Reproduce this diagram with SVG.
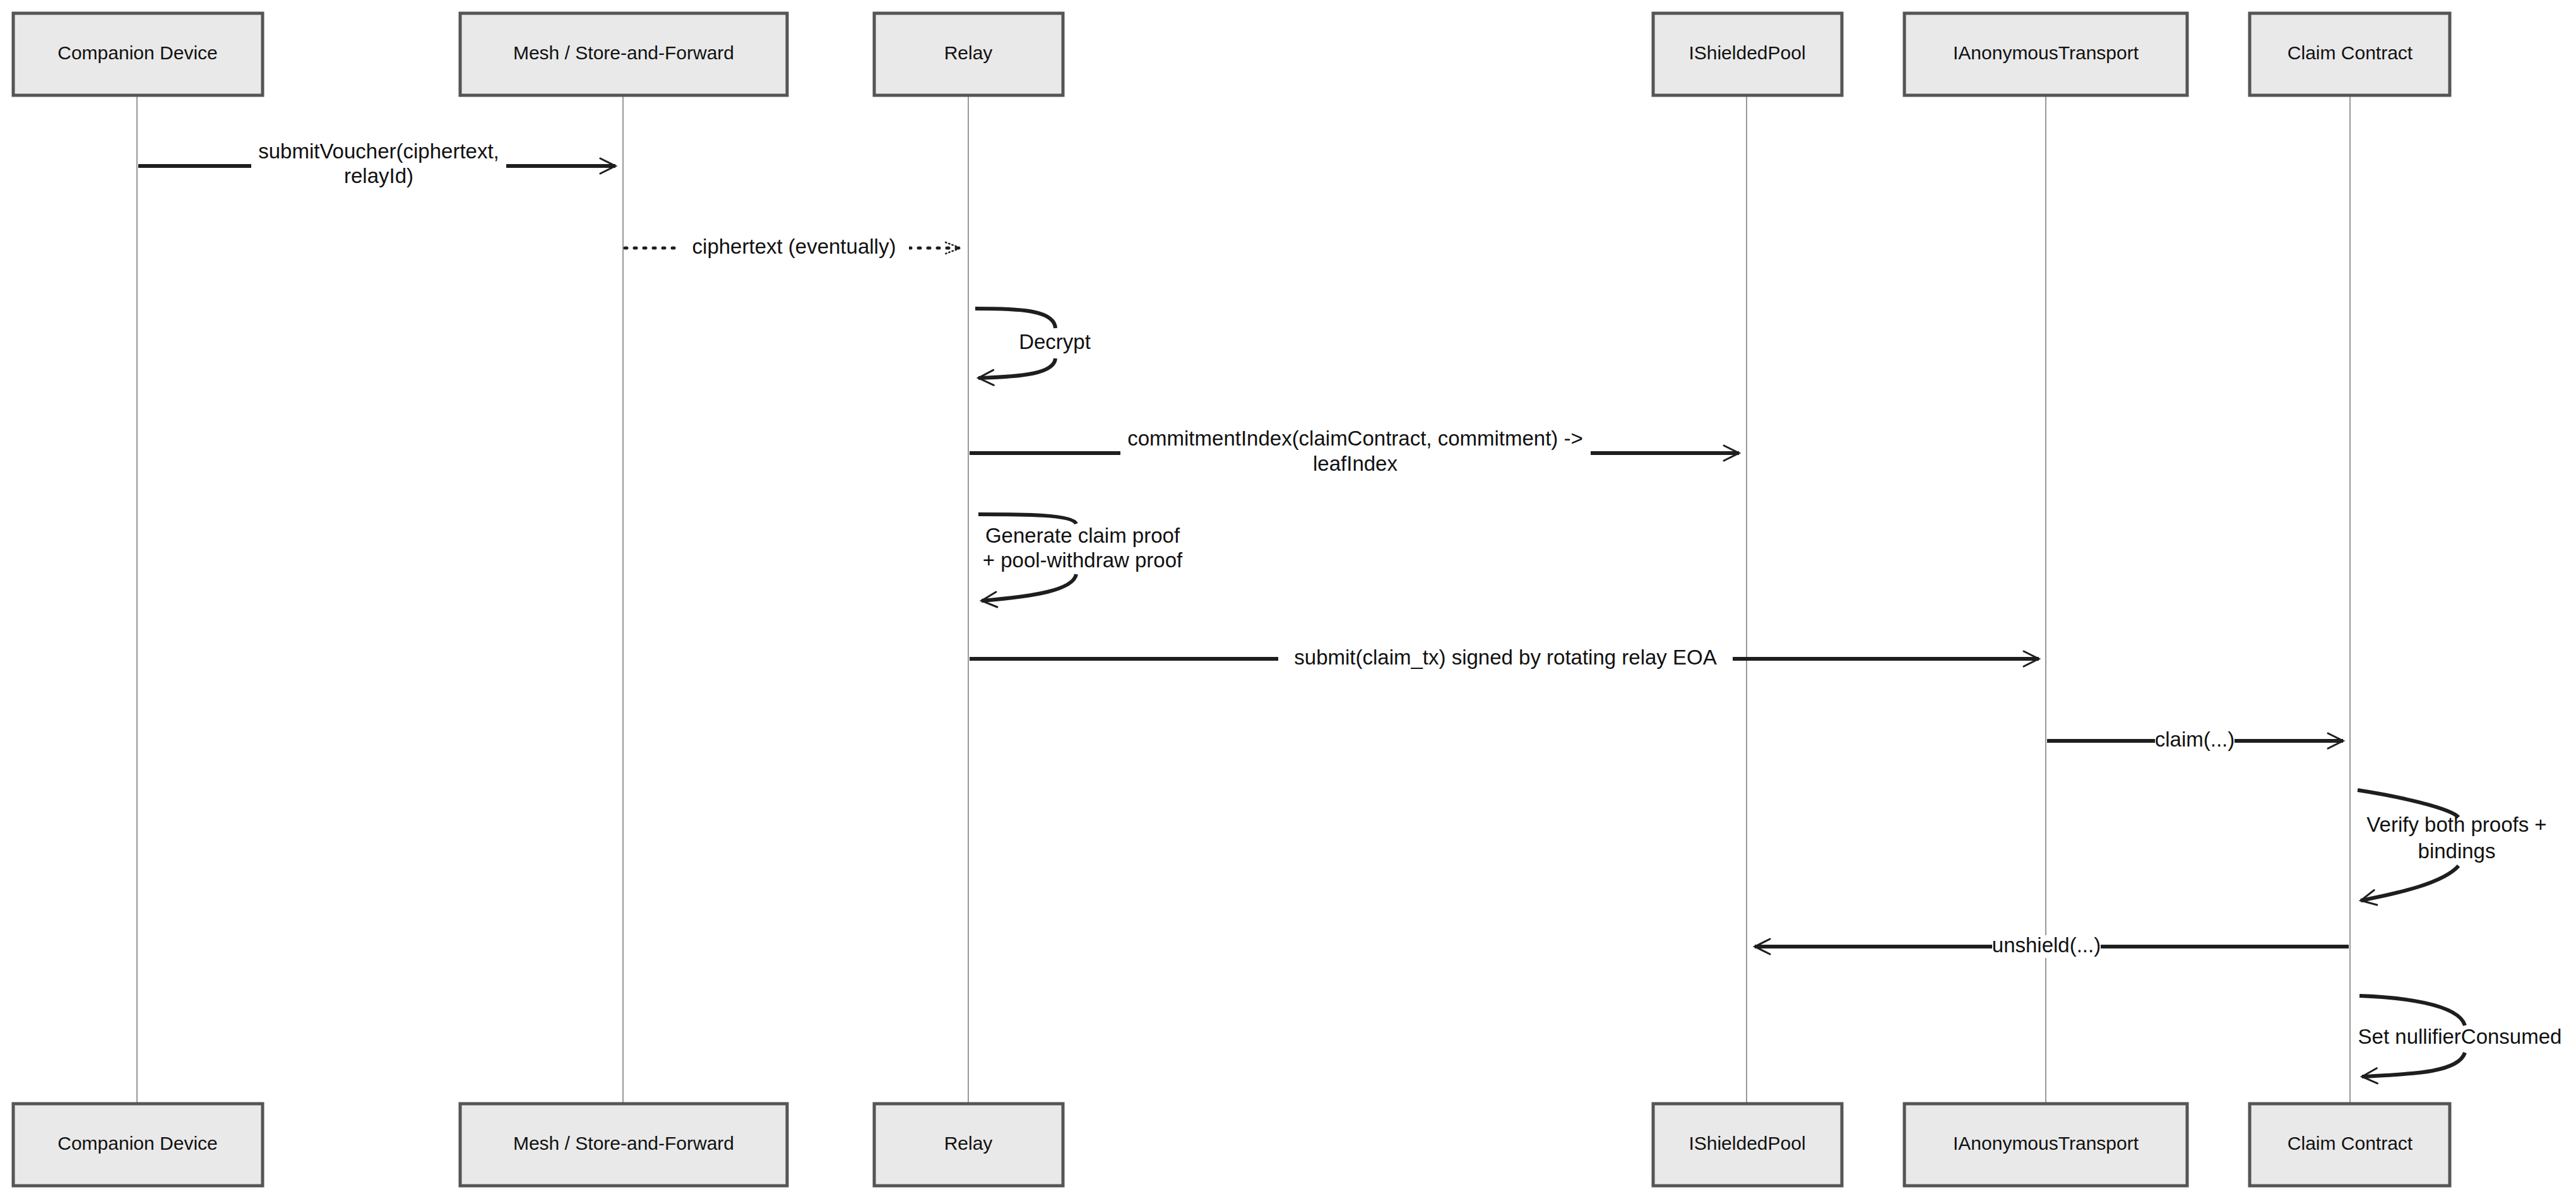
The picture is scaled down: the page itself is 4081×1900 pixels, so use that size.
<svg xmlns="http://www.w3.org/2000/svg" width="4081" height="1900" viewBox="0 0 4081 1900">
<style>
.box{fill:#e9e9e9;stroke:#555;stroke-width:5}
.lt{font-family:"Liberation Sans",sans-serif;font-size:30px;fill:#111;text-anchor:middle;dominant-baseline:middle}
.ml{font-size:33px}
.life{stroke:#999;stroke-width:2}
.msg{stroke:#1e1e1e;stroke-width:6;fill:none}
.dot{stroke:#1e1e1e;stroke-width:5;fill:none;stroke-dasharray:3 12;stroke-linecap:round}
.bg{fill:#fff}
</style>
<defs>
<marker id="ah" viewBox="0 0 20 20" refX="18" refY="10" markerWidth="10" markerHeight="10" markerUnits="userSpaceOnUse" orient="auto" overflow="visible">
<path d="M-30,-14 L18,10 L-30,34" fill="none" stroke="#1e1e1e" stroke-width="6" stroke-linecap="round"/>
</marker>
<marker id="ahd" viewBox="0 0 20 20" refX="18" refY="10" markerWidth="10" markerHeight="10" markerUnits="userSpaceOnUse" orient="auto" overflow="visible">
<path d="M-30,-8 L18,10 L-30,28" fill="none" stroke="#1e1e1e" stroke-width="5" stroke-dasharray="3 8" stroke-linecap="round"/>
</marker>
</defs>
<rect width="4081" height="1900" fill="#fff"/>
<g id="lifelines">
<line class="life" x1="217" y1="151" x2="217" y2="1749"/>
<line class="life" x1="987" y1="151" x2="987" y2="1749"/>
<line class="life" x1="1534" y1="151" x2="1534" y2="1749"/>
<line class="life" x1="2767" y1="151" x2="2767" y2="1749"/>
<line class="life" x1="3241" y1="151" x2="3241" y2="1749"/>
<line class="life" x1="3723" y1="151" x2="3723" y2="1749"/>
</g>
<g id="companion"><rect class="box" x="21" y="21" width="395" height="130"/><text class="lt" x="218" y="86">Companion Device</text>
<rect class="box" x="21" y="1749" width="395" height="130"/><text class="lt" x="218" y="1814">Companion Device</text></g>
<g id="mesh"><rect class="box" x="729" y="21" width="518" height="130"/><text class="lt" x="988" y="86">Mesh / Store-and-Forward</text>
<rect class="box" x="729" y="1749" width="518" height="130"/><text class="lt" x="988" y="1814">Mesh / Store-and-Forward</text></g>
<g id="relay"><rect class="box" x="1385" y="21" width="299" height="130"/><text class="lt" x="1534" y="86">Relay</text>
<rect class="box" x="1385" y="1749" width="299" height="130"/><text class="lt" x="1534" y="1814">Relay</text></g>
<g id="pool"><rect class="box" x="2619" y="21" width="299" height="130"/><text class="lt" x="2768" y="86">IShieldedPool</text>
<rect class="box" x="2619" y="1749" width="299" height="130"/><text class="lt" x="2768" y="1814">IShieldedPool</text></g>
<g id="transport"><rect class="box" x="3017" y="21" width="448" height="130"/><text class="lt" x="3241" y="86">IAnonymousTransport</text>
<rect class="box" x="3017" y="1749" width="448" height="130"/><text class="lt" x="3241" y="1814">IAnonymousTransport</text></g>
<g id="claim"><rect class="box" x="3564" y="21" width="317" height="130"/><text class="lt" x="3723" y="86">Claim Contract</text>
<rect class="box" x="3564" y="1749" width="317" height="130"/><text class="lt" x="3723" y="1814">Claim Contract</text></g>
<g id="connectors">
<line class="msg" x1="219" y1="263" x2="975" y2="263" marker-end="url(#ah)"/>
<rect class="bg" x="398" y="225" width="404" height="75"/>
<text class="lt ml" x="600" y="242">submitVoucher(ciphertext,</text><text class="lt ml" x="600" y="281">relayId)</text>

<line class="dot" x1="990" y1="393" x2="1522" y2="393" marker-end="url(#ahd)"/>
<rect class="bg" x="1076" y="375" width="364" height="36"/>
<text class="lt ml" x="1258" y="393">ciphertext (eventually)</text>

<path class="msg" d="M1545,489 C1610,489 1670,490 1672,520 M1672,568 C1670,592 1620,597 1550,599" marker-end="url(#ah)"/>
<text class="lt ml" x="1671" y="544">Decrypt</text>

<line class="msg" x1="1536" y1="718" x2="2755" y2="718" marker-end="url(#ah)"/>
<rect class="bg" x="1775" y="680" width="745" height="75"/>
<text class="lt ml" x="2147" y="697">commitmentIndex(claimContract, commitment) -&gt;</text><text class="lt ml" x="2147" y="737">leafIndex</text>

<path class="msg" d="M1550,815 C1620,815 1700,815 1705,830 M1705,910 C1700,935 1640,945 1555,952" marker-end="url(#ah)"/>
<text class="lt ml" x="1715" y="851">Generate claim proof</text><text class="lt ml" x="1715" y="890">+ pool-withdraw proof</text>

<line class="msg" x1="1536" y1="1044" x2="3230" y2="1044" marker-end="url(#ah)"/>
<rect class="bg" x="2025" y="1026" width="720" height="36"/>
<text class="lt ml" x="2385" y="1044">submit(claim_tx) signed by rotating relay EOA</text>

<line class="msg" x1="3243" y1="1174" x2="3712" y2="1174" marker-end="url(#ah)"/>
<rect class="bg" x="3414" y="1156" width="126" height="36"/>
<text class="lt ml" x="3477" y="1174">claim(...)</text>

<path class="msg" d="M3735,1252 C3800,1262 3880,1280 3895,1295 M3895,1372 C3870,1400 3800,1415 3740,1427" marker-end="url(#ah)"/>
<text class="lt ml" x="3892" y="1309">Verify both proofs +</text><text class="lt ml" x="3892" y="1351">bindings</text>

<line class="msg" x1="3721" y1="1500" x2="2780" y2="1500" marker-end="url(#ah)"/>
<rect class="bg" x="3156" y="1482" width="172" height="36"/>
<text class="lt ml" x="3242" y="1500">unshield(...)</text>

<path class="msg" d="M3738,1578 C3800,1580 3895,1590 3905,1625 M3905,1668 C3895,1700 3820,1702 3742,1706" marker-end="url(#ah)"/>
<text class="lt ml" x="3897" y="1645">Set nullifierConsumed</text>
</g>
</svg>
